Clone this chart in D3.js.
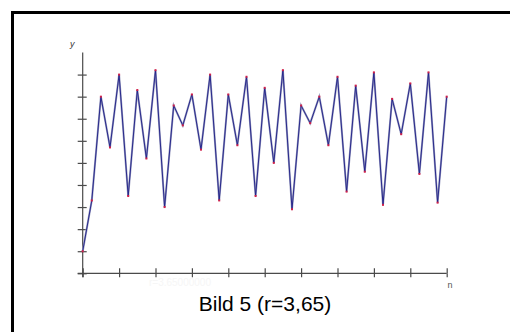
<!DOCTYPE html>
<html>
<head>
<meta charset="utf-8">
<script src="https://cdn.jsdelivr.net/npm/d3@7"></script>
<style>
  body { margin: 0; background: #fff; }
  svg { display: block; }
</style>
</head>
<body>
<script>
// iterates x_n, n = 0..40
const yValues = [
  0.10, 0.33, 0.80, 0.57, 0.90, 0.35, 0.83, 0.52, 0.92, 0.30,
  0.76, 0.67, 0.81, 0.56, 0.90, 0.33, 0.81, 0.58, 0.89, 0.35,
  0.84, 0.50, 0.92, 0.29, 0.76, 0.68, 0.80, 0.58, 0.89, 0.37,
  0.85, 0.46, 0.91, 0.31, 0.79, 0.63, 0.86, 0.45, 0.91, 0.32,
  0.80
];
const xTicks = [0, 4, 8, 12, 16, 20, 24, 28, 32, 36, 40];
const yTicks = [0, 0.1, 0.2, 0.3, 0.4, 0.5, 0.6, 0.7, 0.8, 0.9];
const caption = "Bild 5 (r=3,65)";

const W = 510, H = 332;
const axisColor = "#4a4a4a";

const svg = d3.select("body").append("svg")
  .attr("width", W)
  .attr("height", H);

// frame
svg.append("rect")
  .attr("x", 12.5).attr("y", 12.5)
  .attr("width", W + 20).attr("height", H + 20)
  .attr("fill", "none")
  .attr("stroke", "#000")
  .attr("stroke-width", 3);

const x = d3.scaleLinear().domain([0, 40]).range([82.7, 446.7]);
const y = d3.scaleLinear().domain([0, 1]).range([273.3, 52.5]);

// faint label under the axis
svg.append("text")
  .attr("x", 180).attr("y", 286)
  .attr("text-anchor", "middle")
  .attr("font-family", "Liberation Sans, Arial, sans-serif")
  .attr("font-size", 10)
  .attr("fill", "#f6f6f6")
  .text("r=3.65000000");

// y axis: ticks crossing the line
const yAxisL = svg.append("g")
  .attr("transform", `translate(${x(0)},0)`)
  .call(d3.axisLeft(y).tickValues(yTicks).tickSize(5).tickFormat(""));
const yAxisR = svg.append("g")
  .attr("transform", `translate(${x(0)},0)`)
  .call(d3.axisRight(y).tickValues(yTicks).tickSize(4).tickFormat(""));
yAxisR.select(".domain").remove();
yAxisL.select(".domain").attr("d", `M0,${y(1)}V${y(0) + 4}`);

// x axis
const xAxisB = svg.append("g")
  .attr("transform", `translate(0,${y(0)})`)
  .call(d3.axisBottom(x).tickValues(xTicks).tickSize(4).tickFormat(""));
const xAxisT = svg.append("g")
  .attr("transform", `translate(0,${y(0)})`)
  .call(d3.axisTop(x).tickValues(xTicks).tickSize(5).tickFormat(""));
xAxisT.select(".domain").remove();
xAxisB.select(".domain").attr("d", `M${x(0) - 5},0H${x(40)}`);

svg.selectAll(".domain, .tick line")
  .attr("stroke", axisColor)
  .attr("stroke-width", 1.2);

// axis names
svg.append("text")
  .attr("x", 70).attr("y", 47)
  .attr("font-family", "Liberation Sans, Arial, sans-serif")
  .attr("font-size", 9)
  .attr("font-style", "italic")
  .attr("fill", "#333")
  .text("y");
svg.append("text")
  .attr("x", 450).attr("y", 288)
  .attr("text-anchor", "middle")
  .attr("font-family", "Liberation Sans, Arial, sans-serif")
  .attr("font-size", 9)
  .attr("fill", "#555")
  .text("n");

// series
const line = d3.line()
  .x((d, i) => x(i))
  .y((d) => y(d));

svg.append("path")
  .datum(yValues)
  .attr("fill", "none")
  .attr("stroke", "#9a9dc0")
  .attr("stroke-width", 2)
  .attr("d", line);
svg.append("path")
  .datum(yValues)
  .attr("fill", "none")
  .attr("stroke", "#1c1c86")
  .attr("stroke-width", 0.9)
  .attr("d", line);

svg.selectAll(".pt")
  .data(yValues)
  .join("rect")
  .attr("class", "pt")
  .attr("x", (d, i) => x(i) - 1)
  .attr("y", (d) => y(d) - 1)
  .attr("width", 2)
  .attr("height", 2)
  .attr("fill", "#d0204a");

// caption
svg.append("text")
  .attr("x", 265).attr("y", 310.5)
  .attr("text-anchor", "middle")
  .attr("font-family", "Liberation Sans, Arial, sans-serif")
  .attr("font-size", 21)
  .attr("fill", "#000")
  .text(caption);
</script>
</body>
</html>
